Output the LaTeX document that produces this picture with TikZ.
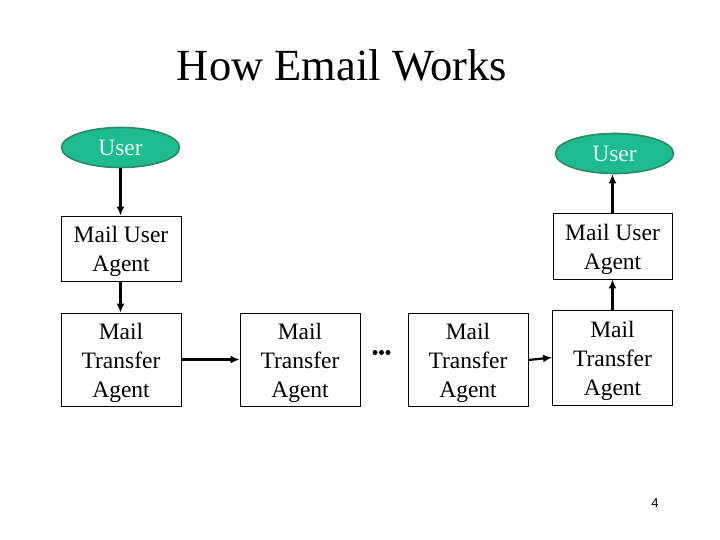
\documentclass[tikz,border=0pt]{standalone}
\usepackage{fontspec}
\setmainfont{Liberation Serif}
\setsansfont{Liberation Sans}
\usetikzlibrary{shapes.geometric,arrows.meta}
\definecolor{userfill}{HTML}{1DBB8E}
\definecolor{userdraw}{HTML}{2A8A66}
\definecolor{usertext}{HTML}{E6FFFA}
\tikzset{
  user/.style={ellipse, draw=userdraw, line width=1.6pt, fill=userfill, text=usertext,
    minimum width=118pt, minimum height=40pt, inner sep=0pt, font=\fontsize{23.5}{28}\selectfont},
  agent/.style={draw=black, line width=0.8pt, minimum width=120pt, inner sep=0pt},
  agenttext/.style={align=center, inner sep=0pt, font=\fontsize{23.5}{29}\selectfont},
  flow/.style={line width=2.2pt, -{Latex[length=9pt,width=8pt]}},
  dot/.style={circle, fill=black, inner sep=0pt, minimum size=5pt}
}
\begin{document}
\begin{tikzpicture}[x=1pt,y=-1pt]
\useasboundingbox (0,0) rectangle (720,540);
\node[font=\fontsize{44.5}{50}\selectfont] (title) at (342,65) {How Email Works};
\node[user] (u1) at (120.5,147.5) {User};
\node[user] (u2) at (614.5,153.5) {User};
\node[agent, minimum height=65pt] (mua1) at (121,248.5) {};
\node[agenttext] (mua1t) at (121,251.5) {Mail User\\Agent};
\node[agent, minimum height=66pt, minimum width=119pt] (mua2) at (612.5,246) {};
\node[agenttext] (mua2t) at (612.5,249) {Mail User\\Agent};
\node[agent, minimum height=93pt] (mta1) at (121,359.5) {};
\node[agenttext] (mta1t) at (121,362.5) {Mail\\Transfer\\Agent};
\node[agent, minimum height=93pt] (mta2) at (300,359.5) {};
\node[agenttext] (mta2t) at (300,362.5) {Mail\\Transfer\\Agent};
\node[agent, minimum height=93pt] (mta3) at (468,360) {};
\node[agenttext] (mta3t) at (468,363) {Mail\\Transfer\\Agent};
\node[agent, minimum height=95pt] (mta4) at (612.5,357.5) {};
\node[agenttext] (mta4t) at (612.5,360.5) {Mail\\Transfer\\Agent};
\node[dot] (d1) at (375,352.5) {};
\node[dot] (d2) at (381.5,352.5) {};
\node[dot] (d3) at (388,352.5) {};
\node[font=\sffamily\fontsize{13}{15}\selectfont] (page) at (655,503) {4};
\draw[flow] (u1.south) -- (u1.south |- mua1.north);
\draw[flow] (u1.south |- mua1.south) -- (u1.south |- mta1.north);
\draw[flow] (mta1.east) -- (mta1.east -| mta2.west);
\draw[flow] (mta3.east) -- (mta4.west);
\draw[flow] (mta4.north) -- (mta4.north |- mua2.south);
\draw[flow] (mta4.north |- mua2.north) -- (mta4.north |- u2.south);
\end{tikzpicture}
\end{document}
